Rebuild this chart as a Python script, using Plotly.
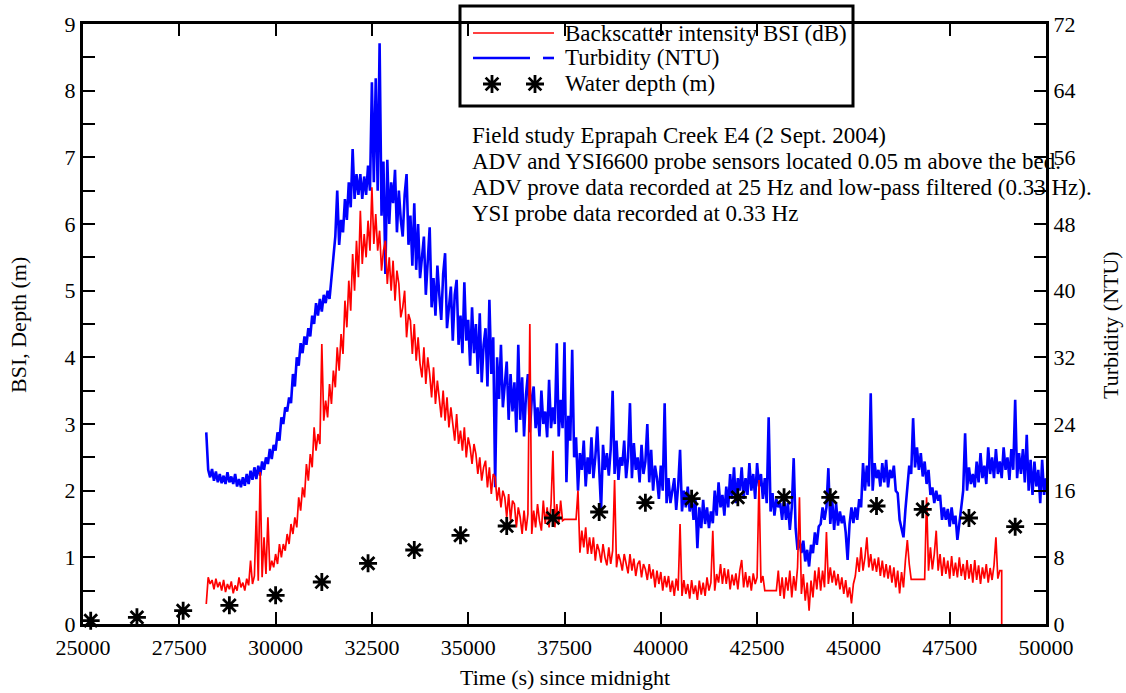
import numpy as np
import plotly.graph_objects as go

# ---------------- data ----------------
# Backscatter intensity BSI (dB), one reading every 50 s from 28200 s
bsi_t0, bsi_dt = 28200, 50
bsi = [
    0.3, 0.7, 0.6, 0.66, 0.52, 0.68, 0.55, 0.63, 0.5, 0.66,          # 28200
    0.48, 0.6, 0.52, 0.64, 0.46, 0.58, 0.5, 0.7, 0.55, 0.62,          # 28700
    0.5, 0.68, 0.58, 0.95, 0.6, 0.72, 1.7, 0.65, 2.28, 0.7,           # 29200
    1.3, 0.75, 1.6, 0.8, 0.95, 0.85, 1.05, 0.9, 1.2, 1.0,             # 29700
    1.2, 1.1, 1.35, 1.2, 1.5, 1.35, 1.6, 1.45, 1.9, 1.7,              # 30200
    2.05, 1.9, 2.4, 2.15, 2.55, 2.35, 2.95, 2.6, 2.85, 2.7,           # 30700
    4.2, 3.05, 3.35, 3.1, 3.6, 3.3, 3.8, 3.55, 4.15, 3.8,             # 31200
    4.35, 4.05, 4.85, 4.45, 5.15, 4.7, 5.55, 5.0, 5.75, 5.2,          # 31700
    6.2, 5.4, 5.85, 5.5, 6.05, 5.6, 6.55, 5.7, 6.15, 5.6,             # 32200
    5.9, 5.3, 5.6, 5.75, 5.1, 5.5, 5.0, 5.45, 4.85, 5.3,              # 32700
    5.1, 4.6, 4.75, 5.0, 4.3, 4.65, 4.55, 4.05, 4.5, 3.95,            # 33200
    4.3, 3.9, 3.7, 4.15, 3.6, 4.0, 3.75, 3.4, 3.85, 3.3,              # 33700
    3.65, 3.35, 3.1, 3.5, 3.05, 3.4, 2.95, 3.25, 3.0, 2.75,           # 34200
    3.15, 2.7, 2.9, 2.6, 2.95, 2.5, 2.8, 2.65, 2.4, 2.7,              # 34700
    2.55, 2.25, 2.5, 2.15, 2.35, 2.45, 2.05, 2.35, 1.95, 2.25,        # 35200
    2.2, 1.85, 2.05, 1.75, 2.0, 1.9, 1.6, 1.95, 1.55, 1.85,           # 35700
    1.8, 1.45, 1.75, 1.6, 1.35, 1.7, 1.4, 1.65, 4.5, 1.35,            # 36200
    1.7, 1.45, 1.8, 1.55, 1.4, 1.85, 1.5, 1.75, 1.45, 1.8,            # 36700
    2.6, 1.45, 1.8, 1.5, 1.85, 1.55, 1.57, 1.57, 1.57, 1.57,          # 37200
    1.57, 1.57, 1.57, 2.0, 1.07, 1.4, 1.15, 1.45, 1.05, 1.3,          # 37700
    1.05, 1.3, 0.95, 1.2, 1.1, 0.92, 1.2, 1.0, 0.88, 1.15,            # 38200
    0.9, 1.1, 2.16, 0.85, 1.05, 0.95, 0.8, 1.05, 0.9, 0.76,           # 38700
    1.05, 0.8, 0.98, 0.72, 0.9, 0.95, 0.7, 0.9, 0.82, 0.66,           # 39200
    0.9, 0.68, 0.82, 0.55, 0.8, 0.6, 0.78, 0.5, 0.72, 0.55,           # 39700
    0.72, 0.48, 0.65, 0.42, 0.68, 0.5, 1.5, 0.42, 0.66, 0.45,         # 40200
    0.6, 0.38, 0.66, 0.45, 0.58, 0.36, 0.65, 0.44, 0.62, 0.42,        # 40700
    0.7, 0.5, 0.62, 1.4, 0.5, 0.75, 0.62, 0.9, 0.6, 0.84,             # 41200
    0.6, 0.82, 0.52, 0.74, 0.58, 0.76, 0.52, 0.8, 0.96, 0.55,         # 41700
    0.78, 0.55, 0.72, 0.5, 0.76, 0.6, 0.7, 2.16, 0.62, 0.72,          # 42200
    0.5, 0.5, 0.5, 0.5, 0.5, 0.5, 0.5, 0.8, 0.42, 0.7,                # 42700
    0.38, 0.7, 0.5, 0.8, 0.4, 0.72, 0.5, 0.85, 1.9, 0.45,             # 43200
    0.75, 0.35, 0.62, 0.2, 0.65, 0.4, 0.8, 0.52, 0.85, 0.5,           # 43700
    0.8, 0.55, 1.38, 0.6, 0.85, 0.62, 0.8, 0.58, 0.75, 0.52,          # 44200
    0.7, 0.45, 0.66, 0.4, 0.55, 0.31, 0.6, 0.72, 1.0, 0.78,           # 44700
    1.15, 0.8, 1.0, 1.3, 0.85, 1.05, 0.8, 0.98, 0.78, 1.0,            # 45200
    0.72, 0.95, 0.7, 0.9, 0.68, 0.88, 0.62, 0.85, 0.55, 0.8,          # 45700
    0.46, 0.78, 0.55, 0.95, 1.26, 0.9, 0.67, 0.67, 0.67, 0.67,        # 46200
    0.67, 0.67, 0.67, 0.67, 1.9, 0.8, 1.15, 0.82, 1.05, 1.4,          # 46700
    0.8, 1.05, 0.72, 1.0, 0.75, 0.95, 0.68, 1.02, 0.72, 0.92,         # 47200
    0.7, 1.0, 0.72, 0.9, 0.66, 0.96, 0.68, 0.9, 0.62, 0.96,           # 47700
    0.66, 0.88, 0.6, 0.85, 0.68, 0.9, 0.62, 0.84, 0.66, 0.88,         # 48200
    1.3, 0.68, 0.8,                                                   # 48700
]
bsi_end_time = 48850   # record ends here: signal drops to zero
bsi_end_value = 0.0

# Turbidity (NTU), one reading every 50 s from 28200 s
ntu_t0, ntu_dt = 28200, 50
ntu = [
    23.0, 18.5, 17.6, 18.6, 17.2, 18.3, 17.0, 18.0, 16.9, 17.8,       # 28200
    16.8, 18.2, 17.0, 17.7, 16.8, 18.0, 16.5, 17.4, 16.4, 17.6,       # 28700
    16.6, 18.0, 16.8, 18.4, 17.3, 18.8, 17.4, 19.0, 17.8, 19.5,       # 29200
    18.5, 20.0, 19.2, 21.0, 19.8, 21.5, 20.8, 23.0, 22.0, 24.8,       # 29700
    24.0, 26.0, 25.5, 27.2, 26.5, 30.0, 28.5, 32.0, 31.0, 33.7,       # 30200
    32.5, 34.5, 33.5, 35.5, 34.5, 37.0, 36.0, 38.5, 37.0, 39.0,       # 30700
    37.5, 39.5, 38.5, 40.0, 39.0, 42.0, 44.0, 46.5, 52.0, 45.5,       # 31200
    48.5, 47.0, 51.0, 48.5, 53.0, 50.0, 57.0, 51.0, 54.0, 51.5,       # 31700
    54.0, 51.0, 53.7, 51.5, 55.0, 52.0, 65.0, 53.0, 65.5, 52.0,       # 32200
    69.7, 49.0, 55.5, 42.0, 55.7, 48.0, 53.0, 50.5, 54.5, 47.0,       # 32700
    52.0, 48.5, 46.5, 51.5, 54.0, 45.5, 49.0, 43.0, 50.5, 42.5,       # 33200
    48.0, 41.5, 44.5, 46.5, 39.5, 43.0, 47.6, 38.0, 41.5, 37.0,       # 33700
    43.0, 39.5, 36.5, 42.0, 44.5, 35.5, 38.5, 40.5, 34.0, 39.5,       # 34200
    41.3, 33.5, 37.0, 32.5, 41.0, 34.0, 36.5, 31.0, 38.0, 32.5,       # 34700
    36.0, 30.0, 37.3, 29.0, 33.5, 35.5, 28.5, 38.9, 30.0, 34.4,       # 35200
    16.4, 32.0, 27.0, 33.5, 26.0, 29.0, 31.5, 24.5, 30.0, 25.5,       # 35700
    29.0, 23.0, 33.5, 24.5, 29.6, 22.5, 27.5, 30.0, 23.0, 27.0,       # 36200
    28.5, 23.5, 26.0, 22.5, 28.0, 24.0, 25.5, 22.4, 29.3, 23.5,       # 36700
    26.0, 24.0, 33.7, 22.5, 26.9, 23.5, 33.8, 17.0, 25.0, 22.0,       # 37200
    32.9, 20.0, 22.4, 16.0, 20.5, 18.5, 22.0, 16.5, 20.0, 18.0,       # 37700
    22.4, 17.5, 20.0, 23.7, 18.0, 13.7, 21.5, 18.5, 20.5, 17.8,       # 38200
    21.0, 28.0, 18.0, 22.0, 17.3, 20.0, 19.0, 22.0, 17.5, 20.0,       # 38700
    26.5, 17.5, 21.7, 18.5, 20.0, 17.0, 21.5, 18.0, 19.5, 24.0,       # 39200
    17.0, 20.9, 16.0, 19.0, 17.5, 15.0, 19.0, 16.0, 26.5, 14.5,       # 39700
    17.5, 14.5, 16.0, 17.5, 13.7, 16.5, 20.9, 13.5, 16.0, 14.0,       # 40200
    16.5, 13.5, 15.5, 12.5, 14.9, 9.1, 14.0, 11.5, 14.9, 12.0,        # 40700
    14.0, 11.5, 13.5, 12.1, 16.0, 13.0, 17.0, 14.0, 15.5, 13.0,       # 41200
    16.5, 14.0, 18.0, 15.0, 18.8, 14.5, 17.5, 16.0, 18.8, 15.0,       # 41700
    17.5, 15.5, 19.3, 16.0, 18.0, 15.0, 19.3, 16.5, 18.0, 15.0,       # 42200
    17.5, 14.5, 24.8, 13.5, 15.7, 13.0, 15.0, 14.0, 14.5, 12.5,       # 42700
    15.2, 12.5, 14.5, 11.3, 14.0, 19.9, 11.5, 8.9, 10.1, 8.5,         # 43200
    10.0, 7.5, 8.9, 6.9, 9.5, 8.5, 11.0, 9.5, 11.7, 12.0,             # 43700
    14.0, 12.5, 14.0, 18.7, 12.0, 14.9, 11.3, 14.5, 11.8, 13.5,       # 44200
    12.1, 13.0, 11.0, 7.7, 12.0, 14.0, 12.1, 14.0, 12.5, 15.0,        # 44700
    14.0, 19.3, 16.0, 19.0, 16.5, 27.7, 16.0, 19.3, 17.5, 18.5,       # 45200
    16.5, 19.3, 17.0, 19.7, 16.4, 18.5, 17.5, 19.0, 16.0, 15.7,       # 45700
    12.5, 11.5, 10.4, 13.7, 16.0, 19.0, 18.0, 24.7, 18.8, 21.2,       # 46200
    18.5, 20.5, 17.7, 19.5, 16.8, 18.5, 15.5, 16.4, 14.5, 16.0,       # 46700
    14.8, 15.5, 12.5, 14.0, 12.5, 13.8, 11.7, 14.0, 12.0, 13.0,       # 47200
    10.1, 12.5, 14.0, 16.0, 22.9, 16.0, 18.8, 16.8, 18.0, 16.4,       # 47700
    19.5, 17.0, 20.5, 17.5, 19.0, 16.8, 21.2, 18.0, 20.0, 17.5,       # 48200
    21.0, 18.0, 19.5, 17.5, 21.2, 18.5, 20.0, 17.3, 21.0, 18.5,       # 48700
    26.9, 17.5, 20.5, 18.0, 21.0, 17.0, 22.7, 16.0, 19.7, 15.5,       # 49200
    19.5, 16.5, 18.5, 14.5, 19.7, 15.5, 17.5,                         # 49700
]

# Water depth (m), one reading every 1200 s from 25200 s
depth_t0, depth_dt = 25200, 1200
depth = [0.05, 0.1, 0.2, 0.28, 0.43, 0.63, 0.91, 1.11, 1.33, 1.47, 1.59,
         1.68, 1.82, 1.88, 1.9, 1.9, 1.9, 1.77, 1.72, 1.59, 1.46]

x_ticks = [25000, 27500, 30000, 32500, 35000, 37500, 40000, 42500, 45000, 47500, 50000]
left_ticks = [0, 1, 2, 3, 4, 5, 6, 7, 8, 9]
right_ticks = [0, 8, 16, 24, 32, 40, 48, 56, 64, 72]

legend_labels = ["Backscatter intensity BSI (dB)", "Turbidity (NTU)", "Water depth (m)"]
note_lines = [
    "Field study Eprapah Creek E4 (2 Sept. 2004)",
    "ADV and YSI6600 probe sensors located 0.05 m above the bed.",
    "ADV prove data recorded at 25 Hz and low-pass filtered (0.33 Hz).",
    "YSI probe data recorded at 0.33 Hz",
]

# ---------------- build series ----------------
bsi_t = list(bsi_t0 + bsi_dt * np.arange(len(bsi))) + [bsi_end_time, bsi_end_time]
bsi_v = bsi + [bsi[-1], bsi_end_value]
ntu_t = ntu_t0 + ntu_dt * np.arange(len(ntu))
depth_t = depth_t0 + depth_dt * np.arange(len(depth))

W, H = 1126, 693
L, R, T, B = 83, 80, 24, 69
PW, PH = W - L - R, H - T - B

def px(x):
    return (x - L) / PW

def py(y):
    return (H - B - y) / PH

FONT = "Liberation Serif"
FS = 22
FS_NOTE = 23
FS_LEG = 23
RED, BLUE = "#ff0000", "#0000ff"
STAR = dict(symbol="asterisk-open", size=15, color="black",
            line=dict(color="black", width=2.8))

fig = go.Figure()
# turbidity on the base axis (drawn underneath)
fig.add_trace(go.Scatter(x=ntu_t, y=ntu, mode="lines", xaxis="x", yaxis="y",
                         line=dict(color=BLUE, width=2.6), showlegend=False,
                         hoverinfo="skip"))
# BSI and depth on the overlay axis (drawn above)
fig.add_trace(go.Scatter(x=bsi_t, y=bsi_v, mode="lines", xaxis="x", yaxis="y2",
                         line=dict(color=RED, width=1.7), showlegend=False,
                         hoverinfo="skip"))
fig.add_trace(go.Scatter(x=depth_t, y=depth, mode="markers", xaxis="x", yaxis="y2",
                         marker=STAR, showlegend=False, cliponaxis=False, hoverinfo="skip"))

# legend asterisks on a hidden paper-like overlay axis
leg_box = (460, 6, 853, 106)
rows = [33, 58, 84]
fig.add_trace(go.Scatter(x=[px(492), px(535)], y=[py(rows[2]), py(rows[2])], mode="markers",
                         xaxis="x3", yaxis="y3", cliponaxis=False, marker=STAR,
                         showlegend=False, hoverinfo="skip"))

axis_common = dict(showline=True, linewidth=3, linecolor="black", ticks="inside",
                   ticklen=12, tickwidth=2, tickcolor="black", showgrid=False,
                   zeroline=False, tickfont=dict(family=FONT, size=FS, color="black"))

half_steps = [i * 0.5 for i in range(19)]
fig.update_layout(
    width=W, height=H,
    margin=dict(l=L, r=R, t=T, b=B),
    paper_bgcolor="white", plot_bgcolor="white",
    xaxis=dict(range=[25000, 50000], tickvals=x_ticks, ticktext=[str(v) for v in x_ticks],
               mirror="ticks", ticklabelstandoff=2, **axis_common),
    yaxis=dict(range=[0, 72], side="right",
               tickvals=list(range(0, 73, 4)),
               ticktext=[str(v) if v in right_ticks else "" for v in range(0, 73, 4)],
               **axis_common),
    yaxis2=dict(range=[0, 9], side="left", overlaying="y",
                tickvals=half_steps,
                ticktext=[str(int(v)) if float(v).is_integer() and int(v) in left_ticks else ""
                          for v in half_steps],
                **axis_common),
    xaxis3=dict(domain=[0, 1], range=[0, 1], visible=False, overlaying="x"),
    yaxis3=dict(domain=[0, 1], range=[0, 1], visible=False, overlaying="y"),
    showlegend=False,
)

shapes = [
    dict(type="rect", xref="paper", yref="paper",
         x0=px(leg_box[0]), x1=px(leg_box[2]), y0=py(leg_box[3]), y1=py(leg_box[1]),
         line=dict(color="black", width=3), fillcolor="rgba(0,0,0,0)", layer="above"),
    dict(type="line", xref="paper", yref="paper", x0=px(473), x1=px(554),
         y0=py(rows[0]), y1=py(rows[0]), line=dict(color=RED, width=1.7), layer="above"),
    dict(type="line", xref="paper", yref="paper", x0=px(473), x1=px(530),
         y0=py(rows[1]), y1=py(rows[1]), line=dict(color=BLUE, width=2.6), layer="above"),
    dict(type="line", xref="paper", yref="paper", x0=px(543), x1=px(554),
         y0=py(rows[1]), y1=py(rows[1]), line=dict(color=BLUE, width=2.6), layer="above"),
]
fig.update_layout(shapes=shapes)

ann = []
for lab, r in zip(legend_labels, rows):
    ann.append(dict(text=lab, xref="paper", yref="paper", x=px(563), y=py(r),
                    xanchor="left", yanchor="middle", showarrow=False,
                    font=dict(family=FONT, size=FS_LEG, color="black")))
for i, line in enumerate(note_lines):
    ann.append(dict(text=line, xref="paper", yref="paper", x=px(470), y=py(135 + 26.3 * i),
                    xanchor="left", yanchor="middle", showarrow=False,
                    font=dict(family=FONT, size=FS_NOTE, color="black")))
ann.append(dict(text="Time (s) since midnight", xref="paper", yref="paper", x=px(L + PW / 2),
                y=py(677), xanchor="center", yanchor="middle", showarrow=False,
                font=dict(family=FONT, size=FS, color="black")))
ann.append(dict(text="BSI, Depth (m)", xref="paper", yref="paper", x=px(18), y=py(325),
                xanchor="center", yanchor="middle", showarrow=False, textangle=-90,
                font=dict(family=FONT, size=FS, color="black")))
ann.append(dict(text="Turbidity (NTU)", xref="paper", yref="paper", x=px(1110), y=py(325),
                xanchor="center", yanchor="middle", showarrow=False, textangle=-90,
                font=dict(family=FONT, size=FS, color="black")))
fig.update_layout(annotations=ann)

fig.write_html("out.html")
